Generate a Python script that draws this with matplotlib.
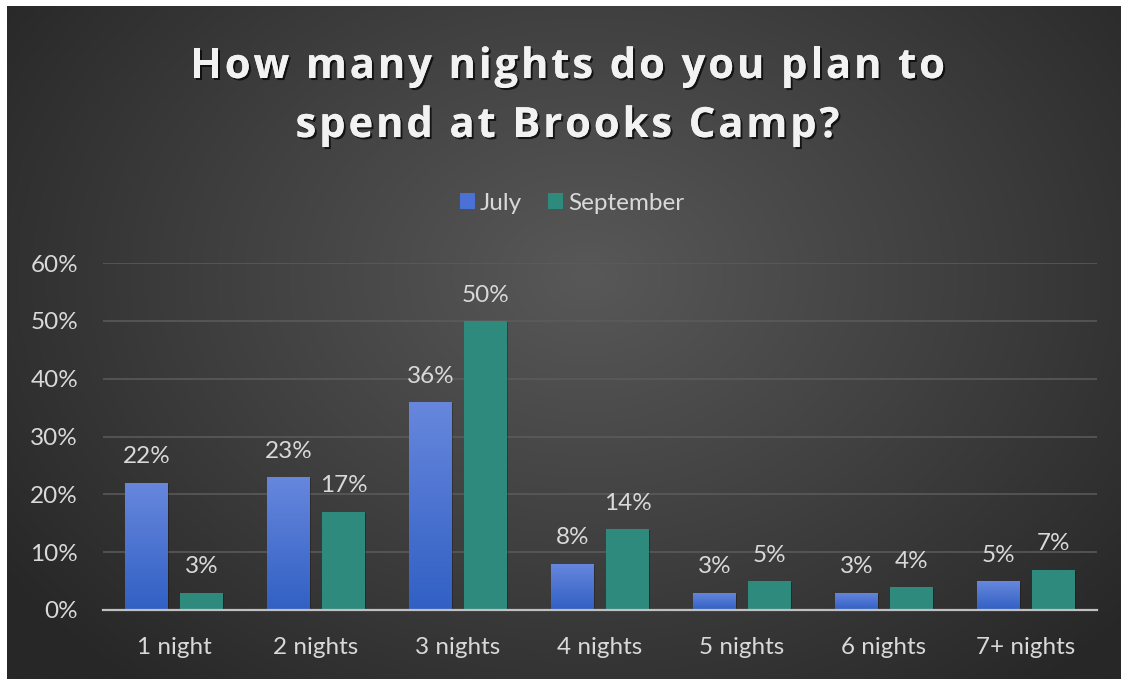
import numpy as np
import matplotlib
matplotlib.use("Agg")
import matplotlib.pyplot as plt
from matplotlib import patheffects as pe
from matplotlib.colors import LinearSegmentedColormap
from matplotlib.patches import Patch
from matplotlib import font_manager
from matplotlib.ft2font import FT2Font

# Survey data
categories = ["1 night", "2 nights", "3 nights", "4 nights", "5 nights", "6 nights", "7+ nights"]
july = [22, 23, 36, 8, 3, 3, 5]
september = [3, 17, 50, 14, 5, 4, 7]
series_names = ["July", "September"]
yticks = [0, 10, 20, 30, 40, 50, 60]
title_lines = ["How many nights do you plan to", "spend at Brooks Camp?"]

W, H = 1121, 679
DPI = 100
fig = plt.figure(figsize=(W / DPI, H / DPI), dpi=DPI)
fig.patch.set_facecolor("white")

# Dark radial-gradient backdrop
bg = fig.add_axes([7 / W, 0, 1 - 7 / W, 1 - 6 / H])
bg.set_axis_off()
gh, gw = 340, 560
yy, xx = np.mgrid[0:gh, 0:gw]
cx, cy = 0.52 * gw, 0.40 * gh
r = np.sqrt(((xx - cx) / (0.64 * gw)) ** 2 + ((yy - cy) / (0.80 * gh)) ** 2)
r = np.clip(r, 0, 1)
bg_cmap = LinearSegmentedColormap.from_list("bg", ["#585858", "#404040", "#272727"])
bg.imshow(r, cmap=bg_cmap, aspect="auto", extent=[0, 1, 0, 1], origin="upper", vmin=0, vmax=1)
bg.set_xlim(0, 1)
bg.set_ylim(0, 1)

text_color = "#d9d9d9"
font = ["Lato", "DejaVu Sans"]
fs = 17.5

# Title: letter-spaced bold text with a soft drop shadow
title_prop = font_manager.FontProperties(family="Open Sans", weight="bold")
title_path = font_manager.findfont(title_prop)
title_size = 30.0
ft = FT2Font(title_path)
ft.set_size(title_size, 72)


def advances(s):
    return [ft.load_char(ord(c)).linearHoriAdvance / 65536.0 * DPI / 72.0 for c in s]


line_width_px = 755.0
center_x = 567.5
baselines = [78, 137]
adv0 = advances(title_lines[0])
tracking = (line_width_px - sum(adv0)) / (len(title_lines[0]) - 1)
title_fx = [pe.withSimplePatchShadow(offset=(1.5, -1.5), shadow_rgbFace="black", alpha=0.7), pe.Normal()]
for line, base in zip(title_lines, baselines):
    adv = advances(line)
    total = sum(adv) + tracking * (len(line) - 1)
    xpos = center_x - total / 2
    for ch, a in zip(line, adv):
        if ch != " ":
            fig.text(xpos / W, 1 - base / H, ch, ha="left", va="baseline", color="#f2f2f2",
                     fontproperties=title_prop, fontsize=title_size, path_effects=title_fx)
        xpos += a + tracking

# Plot area
ax = fig.add_axes([103 / W, 1 - 610 / H, (1097 - 103) / W, (610 - 263) / H])
ax.patch.set_alpha(0)

x = np.arange(len(categories))
bw = 0.30
off = 0.194
july_color = "#4a72d0"
sept_color = "#2f8a7e"

jb = ax.bar(x - off, july, bw, color=july_color, zorder=3)
sb = ax.bar(x + off, september, bw, color=sept_color, zorder=3)

shadow = [pe.SimplePatchShadow(offset=(1, -1), shadow_rgbFace="black", alpha=0.25), pe.Normal()]
for b in list(jb) + list(sb):
    b.set_path_effects(shadow)

# Vertical gradient on the July bars
blue_grad = LinearSegmentedColormap.from_list("blue", ["#6787dd", "#3160c4"])
grad = np.linspace(0, 1, 128).reshape(-1, 1)
for b in jb:
    x0, y0 = b.get_x(), b.get_y()
    im = ax.imshow(grad, cmap=blue_grad, aspect="auto", origin="upper",
                   extent=[x0, x0 + b.get_width(), y0, y0 + b.get_height()], zorder=4)
    im.set_clip_path(b)

# Value labels
for bars, vals in ((jb, july), (sb, september)):
    for b, v in zip(bars, vals):
        ax.annotate(f"{v}%", (b.get_x() + b.get_width() / 2, v), xytext=(0, 11),
                    textcoords="offset points", ha="center", va="bottom",
                    color=text_color, fontsize=fs, family=font, zorder=5)

ax.set_xlim(-0.5, len(categories) - 0.5)
ax.set_ylim(0, 60)
ax.set_yticks(yticks)
ax.set_yticklabels([f"{t}%" for t in yticks])
ax.set_xticks(x)
ax.set_xticklabels(categories)
ax.tick_params(axis="both", length=0, colors=text_color, labelsize=fs)
ax.tick_params(axis="y", pad=18)
ax.tick_params(axis="x", pad=19.5)
for lab in ax.get_xticklabels() + ax.get_yticklabels():
    lab.set_family(font)

ax.grid(axis="y", color="#5c5c5c", linewidth=1.1, zorder=0)
ax.set_axisbelow(True)
for s in ("top", "right", "left"):
    ax.spines[s].set_visible(False)
ax.spines["bottom"].set_color("#c0c0c0")
ax.spines["bottom"].set_linewidth(1.6)
ax.spines["bottom"].set_zorder(6)

handles = [Patch(facecolor="#4a72d6", label=series_names[0]),
           Patch(facecolor=sept_color, label=series_names[1])]
leg = fig.legend(handles=handles, loc="center", bbox_to_anchor=(572 / W, 1 - 203 / H), ncol=2,
                 frameon=False, handlelength=0.62, handleheight=0.62, handletextpad=0.2,
                 columnspacing=1.1, borderpad=0, prop={"family": font, "size": fs})
for t in leg.get_texts():
    t.set_color(text_color)

fig.savefig("out.png", dpi=DPI, facecolor=fig.get_facecolor())
